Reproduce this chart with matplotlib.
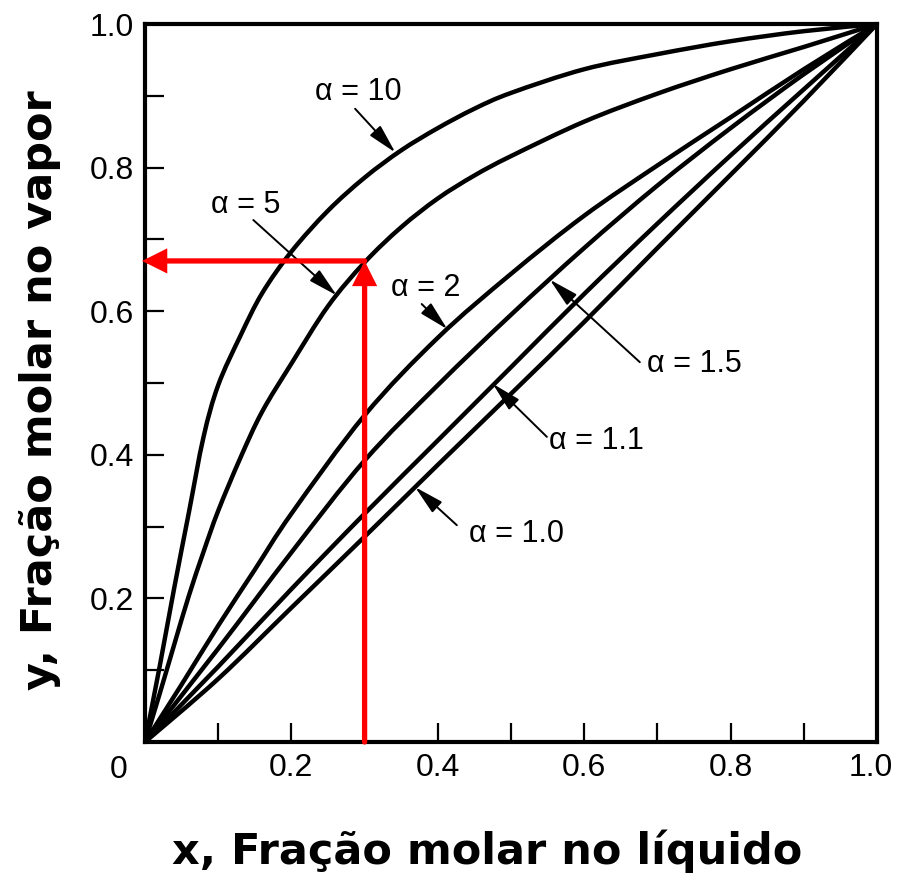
import matplotlib
matplotlib.use("Agg")
import matplotlib.pyplot as plt
from matplotlib.path import Path
from matplotlib.patches import PathPatch
from matplotlib.transforms import ScaledTranslation

# ---- data ----
alpha_labels = ["α = 10", "α = 5", "α = 2", "α = 1.5", "α = 1.1", "α = 1.0"]

x_a10 = [0, 0.02, 0.04, 0.06, 0.08, 0.10, 0.13, 0.16, 0.20, 0.25, 0.30, 0.35,
         0.40, 0.45, 0.50, 0.60, 0.70, 0.80, 0.90, 1.0]
y_a10 = [0, 0.105, 0.215, 0.32, 0.425, 0.497, 0.565, 0.625, 0.683, 0.74, 0.786,
         0.824, 0.855, 0.882, 0.904, 0.937, 0.958, 0.976, 0.99, 1.0]

x_a5 = [0, 0.02, 0.04, 0.06, 0.08, 0.10, 0.13, 0.16, 0.20, 0.25, 0.30, 0.35,
        0.40, 0.45, 0.50, 0.60, 0.70, 0.80, 0.90, 1.0]
y_a5 = [0, 0.067, 0.136, 0.204, 0.265, 0.322, 0.395, 0.46, 0.527, 0.607, 0.668,
        0.717, 0.757, 0.789, 0.816, 0.864, 0.903, 0.937, 0.968, 1.0]

x_a2 = [0, 0.05, 0.10, 0.15, 0.20, 0.30, 0.40, 0.50, 0.60, 0.70, 0.80, 0.90, 1.0]
y_a2 = [0, 0.08, 0.162, 0.24, 0.318, 0.455, 0.563, 0.652, 0.733, 0.803, 0.87, 0.937, 1.0]

x_grid = [0, 0.1, 0.2, 0.3, 0.4, 0.5, 0.6, 0.7, 0.8, 0.9, 1.0]
y_a15 = [0, 0.13, 0.264, 0.392, 0.497, 0.595, 0.688, 0.775, 0.855, 0.93, 1.0]
y_a11 = [0, 0.105, 0.213, 0.318, 0.42, 0.522, 0.624, 0.722, 0.817, 0.909, 1.0]
y_a10_line = [0, 0.088, 0.187, 0.286, 0.386, 0.485, 0.585, 0.688, 0.79, 0.893, 1.0]

x_read = 0.30
y_read = 0.67

tick_values = [0, 0.1, 0.2, 0.3, 0.4, 0.5, 0.6, 0.7, 0.8, 0.9, 1.0]
tick_labels = ["", "", "0.2", "", "0.4", "", "0.6", "", "0.8", "", "1.0"]
origin_label = "0"
xlabel = "x, Fração molar no líquido"
ylabel = "y, Fração molar no vapor"


def smooth_path(xs, ys):
    """Smooth (Catmull-Rom style) Bezier path through the given data points."""
    pts = list(zip(xs, ys))
    n = len(pts)
    verts = [pts[0]]
    codes = [Path.MOVETO]
    for i in range(n - 1):
        p0 = pts[max(i - 1, 0)]
        p1 = pts[i]
        p2 = pts[i + 1]
        p3 = pts[min(i + 2, n - 1)]
        c1 = (p1[0] + (p2[0] - p0[0]) / 6, p1[1] + (p2[1] - p0[1]) / 6)
        c2 = (p2[0] - (p3[0] - p1[0]) / 6, p2[1] - (p3[1] - p1[1]) / 6)
        verts += [c1, c2, p2]
        codes += [Path.CURVE4, Path.CURVE4, Path.CURVE4]
    return Path(verts, codes)


# ---- figure ----
W, H = 897, 877
fig = plt.figure(figsize=(W / 100, H / 100), dpi=100)
ax = fig.add_axes([145 / W, 135 / H, 732 / W, 718 / H])

series = [(x_a10, y_a10), (x_a5, y_a5), (x_a2, y_a2),
          (x_grid, y_a15), (x_grid, y_a11), (x_grid, y_a10_line)]
for xs, ys in series:
    patch = PathPatch(smooth_path(xs, ys), facecolor="none", edgecolor="black",
                      lw=3.2, joinstyle="round", capstyle="round", zorder=3)
    ax.add_patch(patch)

ax.set_xlim(0, 1)
ax.set_ylim(0, 1)
for s in ax.spines.values():
    s.set_linewidth(3)

tick_font = dict(family="Liberation Sans", size=23)
ax.set_xticks(tick_values)
ax.set_xticklabels(tick_labels, fontdict=tick_font)
ax.set_yticks(tick_values)
ax.set_yticklabels(tick_labels, fontdict=tick_font)
ax.tick_params(direction="in", length=14, width=1.6, color="black")
ax.tick_params(axis="x", pad=8)
ax.tick_params(axis="y", pad=8)
# keep the last x label inside the canvas
last = ax.get_xticklabels()[-1]
last.set_transform(last.get_transform() +
                   ScaledTranslation(-6 / 100, 0, fig.dpi_scale_trans))
ax.text(-0.036, -0.039, origin_label, ha="center", va="center",
        fontdict=tick_font, transform=ax.transData, clip_on=False)

# curve annotations: (text pos, arrow tail, arrow head)
ann = [
    ((0.292, 0.905), (0.287, 0.882), (0.342, 0.821)),
    ((0.137, 0.748), (0.148, 0.727), (0.262, 0.622)),
    ((0.383, 0.632), (0.378, 0.610), (0.413, 0.575)),
    ((0.751, 0.526), (0.676, 0.529), (0.553, 0.644)),
    ((0.617, 0.419), (0.549, 0.425), (0.475, 0.499)),
    ((0.508, 0.290), (0.426, 0.302), (0.369, 0.355)),
]
for lab, (tp, tail, head) in zip(alpha_labels, ann):
    ax.text(tp[0], tp[1], lab, ha="center", va="center",
            family="Liberation Sans", fontsize=22, zorder=5)
    ax.annotate("", xy=head, xytext=tail,
                arrowprops=dict(arrowstyle="-|>,head_length=0.9,head_width=0.22",
                                mutation_scale=20, lw=1.4, color="black",
                                shrinkA=0, shrinkB=0), zorder=4)

# red reading arrows
red_style = dict(arrowstyle="-|>,head_length=0.6,head_width=0.3",
                 mutation_scale=20, lw=3.8, color="#ff0000",
                 shrinkA=0, shrinkB=0, joinstyle="miter")
ax.annotate("", xy=(x_read, y_read), xytext=(x_read, 0),
            arrowprops=red_style, zorder=6, annotation_clip=False)
ax.annotate("", xy=(-0.004, y_read), xytext=(x_read, y_read),
            arrowprops=red_style, zorder=6, annotation_clip=False)

label_font = dict(family="DejaVu Sans", weight="bold", size=31)
fig.text(487 / W, 1 - 851 / H, xlabel, ha="center", va="center", fontdict=label_font)
fig.text(40 / W, 1 - 390 / H, ylabel, ha="center", va="center", rotation=90,
         fontdict=label_font)

fig.savefig("out.png", dpi=100, facecolor="white")
